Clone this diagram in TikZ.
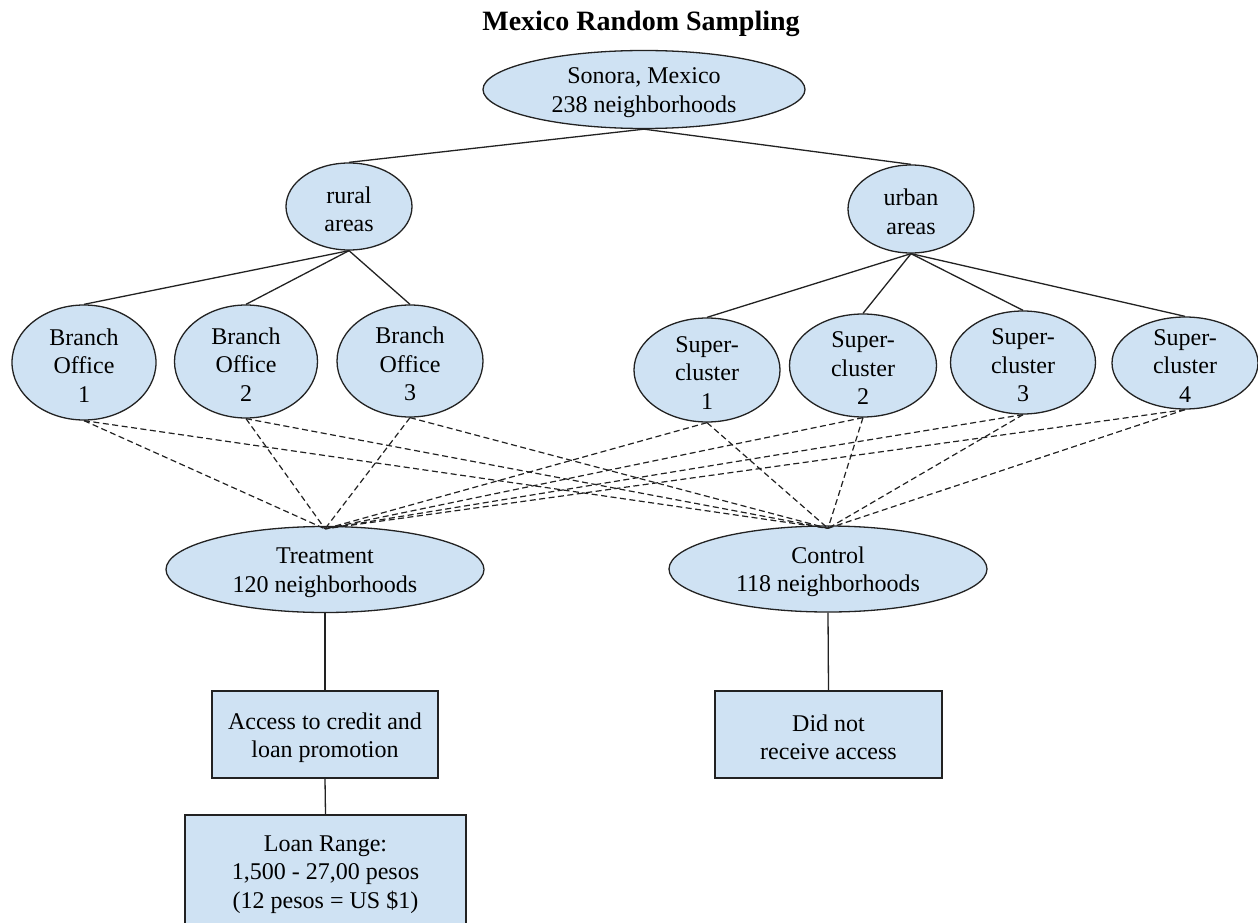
\documentclass[tikz,border=0pt]{standalone}
\usepackage{fontspec}
\setmainfont{Liberation Serif}
\usetikzlibrary{shapes.geometric}
\definecolor{nodefill}{HTML}{CFE2F3}
\definecolor{edgeclr}{HTML}{222222}

\begin{document}
\begin{tikzpicture}[x=1pt,y=-1pt]
\tikzset{
  txt/.style={align=center, font=\fontsize{24}{28.5}\selectfont, inner sep=0pt, yshift=-3pt},
  base/.style={draw=edgeclr, fill=nodefill, line width=1.3pt, inner sep=0pt},
  oval/.style={base, ellipse},
  box/.style={base, rectangle},
  tree/.style={draw=edgeclr, line width=1.3pt},
  link/.style={draw=edgeclr, line width=1.2pt, dash pattern=on 6pt off 3.5pt},
}
\useasboundingbox (0,0) rectangle (1258,923);
\clip (0,0) rectangle (1258,923);

% title
\node[font=\fontsize{28}{34}\selectfont\bfseries] (title) at (641,24) {Mexico Random Sampling};

% top levels
\node[oval, minimum width=322, minimum height=78,
  label={[txt]center:{Sonora, Mexico\\238 neighborhoods}}] (sonora) at (644,89.5) {};
\node[oval, minimum width=126, minimum height=87,
  label={[txt]center:{rural\\areas}}] (rural) at (349,206.5) {};
\node[oval, minimum width=126, minimum height=88,
  label={[txt]center:{urban\\areas}}] (urban) at (911,209) {};

% branch offices
\node[oval, minimum width=144, minimum height=115,
  label={[txt]center:{Branch\\Office\\1}}] (bo1) at (84,362.5) {};
\node[oval, minimum width=143, minimum height=113,
  label={[txt]center:{Branch\\Office\\2}}] (bo2) at (246,361.5) {};
\node[oval, minimum width=146, minimum height=112,
  label={[txt]center:{Branch\\Office\\3}}] (bo3) at (410,361) {};

% super-clusters
\node[oval, minimum width=146, minimum height=104,
  label={[txt]center:{Super-\\cluster\\1}}] (sc1) at (707,370) {};
\node[oval, minimum width=147, minimum height=103,
  label={[txt]center:{Super-\\cluster\\2}}] (sc2) at (863,365.5) {};
\node[oval, minimum width=145, minimum height=103,
  label={[txt]center:{Super-\\cluster\\3}}] (sc3) at (1023,362.5) {};
\node[oval, minimum width=146, minimum height=92,
  label={[txt]center:{Super-\\cluster\\4}}] (sc4) at (1185,363) {};

% groups
\node[oval, minimum width=318, minimum height=86,
  label={[txt]center:{Treatment\\120 neighborhoods}}] (treat) at (325,569.5) {};
\node[oval, minimum width=318, minimum height=86,
  label={[txt]center:{Control\\118 neighborhoods}}] (ctrl) at (828,569) {};

% outcome boxes
\node[box, minimum width=226, minimum height=87,
  label={[txt]center:{Access to credit and\\loan promotion}}] (access) at (325,734.5) {};
\node[box, minimum width=227, minimum height=87,
  label={[txt]center:{Did not\\receive access}}] (noaccess) at (828.5,734.5) {};
\node[box, minimum width=281, minimum height=113,
  label={[txt]center:{Loan Range:\\1,500 - 27,00 pesos\\(12 pesos = US \$1)}}] (loan) at (325.5,871.5) {};

% hierarchy
\draw[tree] (sonora.south) -- (rural.north);
\draw[tree] (sonora.south) -- (urban.north);
\foreach \c in {bo1,bo2,bo3} \draw[tree] (rural.south) -- (\c.north);
\foreach \c in {sc1,sc2,sc3,sc4} \draw[tree] (urban.south) -- (\c.north);

% random assignment
\foreach \c in {bo1,bo2,bo3,sc1,sc2,sc3,sc4} {
  \draw[link] (\c.south) -- ([yshift=-3pt]treat.north);
  \draw[link] (\c.south) -- ([yshift=-3pt]ctrl.north);
}

% outcomes
\draw[tree] (treat.south) -- (access.north);
\draw[tree] (access.south) -- (loan.north);
\draw[tree] (ctrl.south) -- (noaccess.north);
\end{tikzpicture}
\end{document}
